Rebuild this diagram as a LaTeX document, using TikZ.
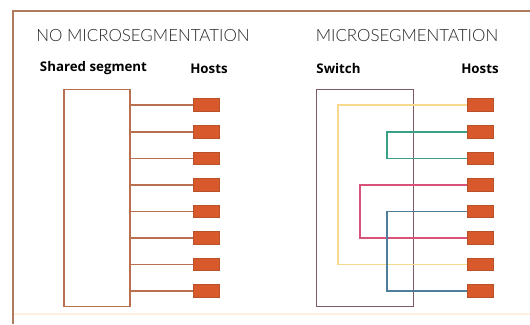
\documentclass[tikz,border=0pt]{standalone}
\usepackage{fontspec}
\setmainfont{Open Sans}
\newfontfamily\thinfont{Lato Light}
\begin{document}
\definecolor{frame}{HTML}{B07A5E}
\definecolor{segline}{HTML}{B8704E}
\definecolor{hostfill}{HTML}{D85A2C}
\definecolor{hostedge}{HTML}{B8502A}
\definecolor{swline}{HTML}{7E5A64}
\definecolor{cyel}{HTML}{F6D98C}
\definecolor{cgrn}{HTML}{3AA088}
\definecolor{cpnk}{HTML}{D8527A}
\definecolor{cblu}{HTML}{4E7E9A}
\tikzset{
  host/.style={draw=hostedge, fill=hostfill, line width=0.6pt, minimum width=26pt, minimum height=12.5pt, inner sep=0pt},
  heading/.style={font=\thinfont\fontsize{16.9}{19}\selectfont, text=black!85, inner sep=0pt},
  colhead/.style={font=\bfseries\fontsize{13.3}{15}\selectfont, inner sep=0pt},
  link/.style={line width=1.6pt, segline},
  route/.style={line width=1.4pt}
}
\begin{tikzpicture}[x=1pt,y=-1pt]
\useasboundingbox (0,0) rectangle (530,324);
% outer frame: left and top edges, faint base line
\draw[fill=white, draw=none] (0,0) rectangle (530,324);
\draw[line width=2.6pt, frame] (13,324) -- (13,11) -- (530,11);
\draw[line width=2pt, orange!12] (14.3,314) -- (530,314);

% headings
\node[heading] (t1) at (143,35.5) {NO MICROSEGMENTATION};
\node[heading] (t2) at (407,35.5) {MICROSEGMENTATION};
\node[colhead] (c1) at (93.5,68.5) {Shared segment};
\node[colhead] (c2) at (209,68.5) {Hosts};
\node[colhead] (c3) at (338.5,68.5) {Switch};
\node[colhead] (c4) at (480,68.5) {Hosts};

% left panel: shared segment with eight hosts
\node[draw=segline, line width=1.6pt, minimum width=66pt, minimum height=217pt, inner sep=0pt, anchor=north west] (lbox) at (63,88.5) {};
\foreach \i/\y in {1/105,2/132,3/158.5,4/185,5/211.5,6/238,7/264.5,8/291}{
  \node[host] (lh\i) at (206,\y) {};
  \draw[link] (lbox.east |- lh\i) -- (lh\i.west);
}

% right panel: switch with paired hosts
\node[draw=swline, line width=1.4pt, minimum width=97pt, minimum height=217pt, inner sep=0pt, anchor=north west] (sw) at (316,88.5) {};
\foreach \i/\y in {1/105,2/132,3/158.5,4/185,5/211.5,6/238,7/264.5,8/291}{
  \node[host] (rh\i) at (480,\y) {};
}
\coordinate (vy) at (338,0);
\coordinate (vp) at (360,0);
\coordinate (vg) at (387,0);
\draw[route, cyel] (rh1.west) -| (vy |- rh7.west) -- (rh7.west);
\draw[route, cgrn] (rh2.west) -| (vg |- rh3.west) -- (rh3.west);
\draw[route, cpnk] (rh4.west) -| (vp |- rh6.west) -- (rh6.west);
\draw[route, cblu] (rh5.west) -| (vg |- rh8.west) -- (rh8.west);
\end{tikzpicture}
\end{document}
